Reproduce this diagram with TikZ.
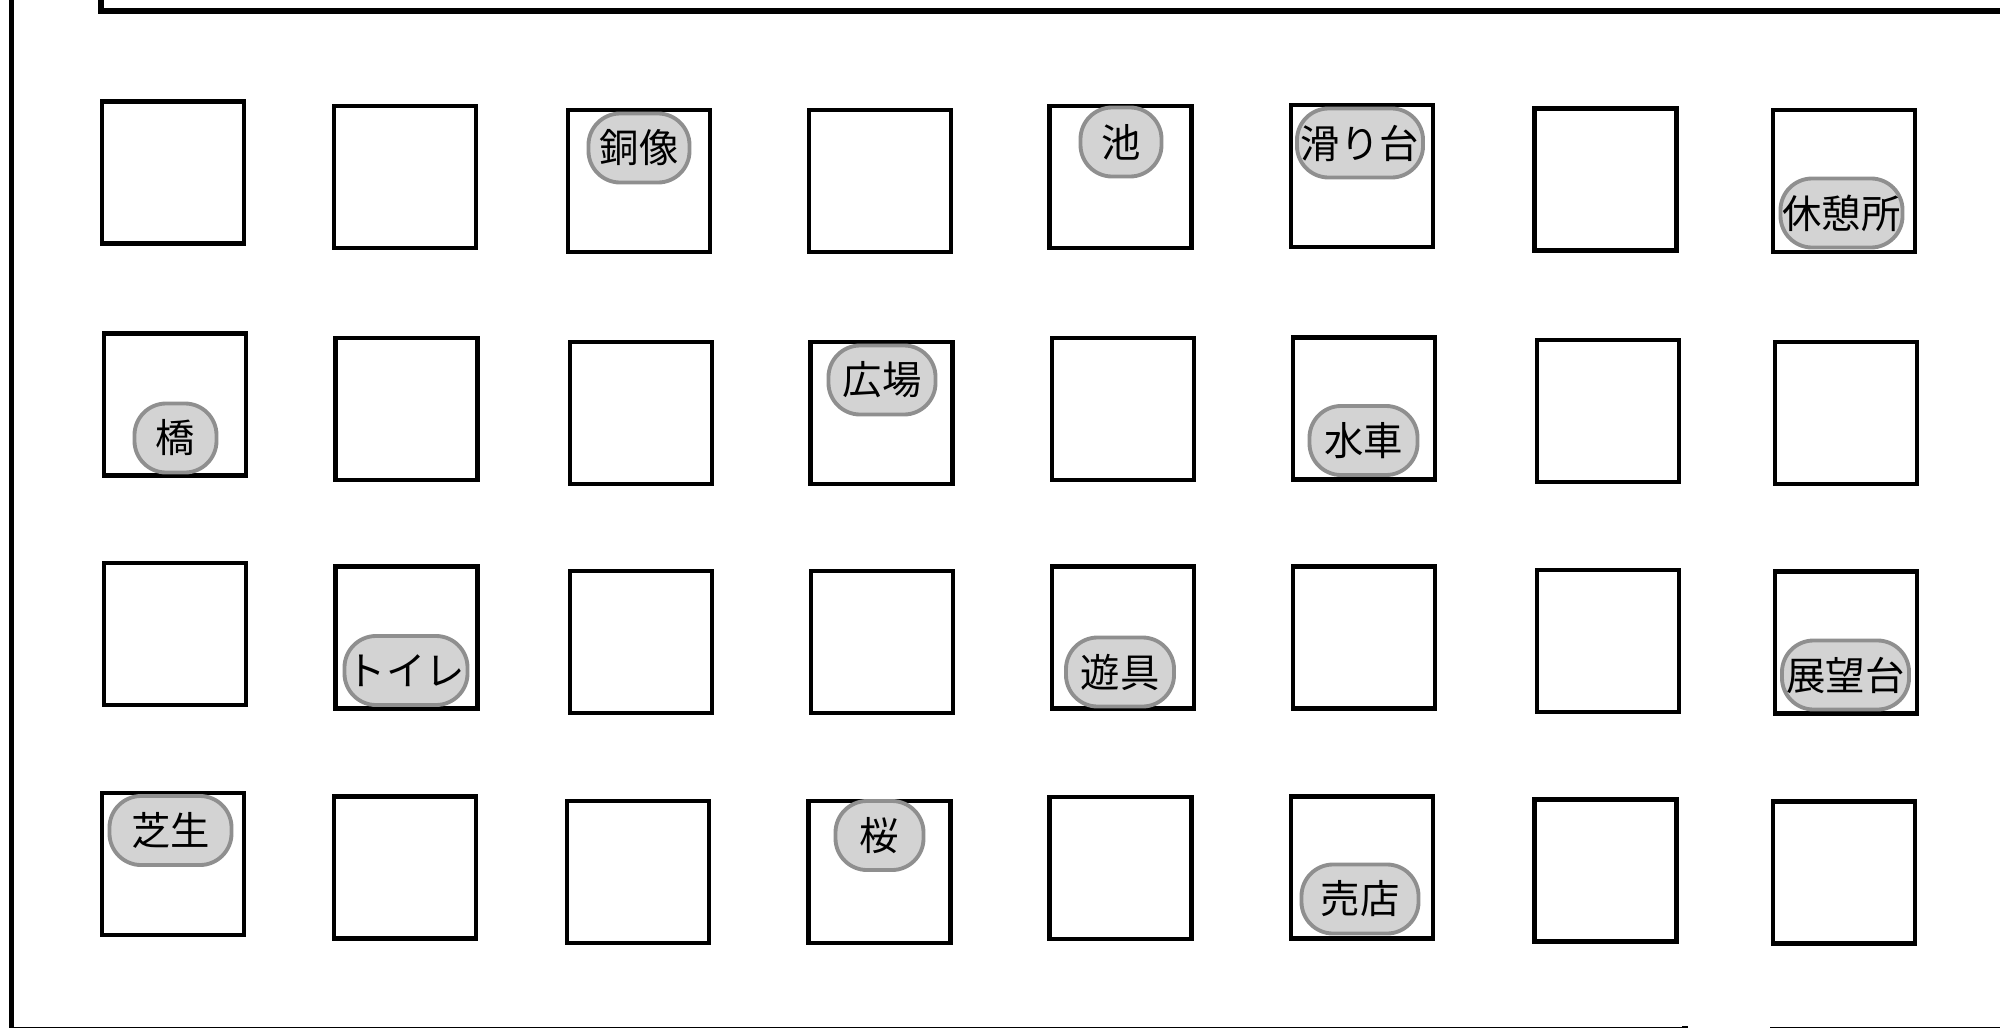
\documentclass[tikz,border=0pt]{standalone}
\usepackage{fontspec}
\newfontfamily\jpfont{Noto Sans CJK JP}
\usepackage{tikz}
\usetikzlibrary{positioning}
\definecolor{pillfill}{HTML}{D3D3D3}
\definecolor{pillborder}{HTML}{8F8F8F}

\begin{document}
\begin{tikzpicture}[x=0.01cm,y=-0.01cm,
    plot/.style={rectangle,draw,line width=1.25pt,minimum size=1.42cm,inner sep=0pt},
    pill/.style={rectangle,rounded corners=9pt,draw=pillborder,fill=pillfill,line width=1.1pt,
      minimum height=0.69cm,inner sep=0pt,font=\jpfont\fontsize{11.2}{13}\selectfont},
    wall/.style={line width=1.7pt}]
  \useasboundingbox (0,0) rectangle (2000,1027);
  \clip (0,0) rectangle (2000,1027);
  % park fence
  \draw[wall] (2010,11) -- (101,11) -- (101,-10);
  \draw[wall] (11.5,-10) -- (11.5,1029.5) -- (1685,1029.5) -- (1685,1025.5);
  \draw[wall] (1770,1029.5) -- (2010,1029.5);
  % plots
  \foreach \n/\x/\y in {11/173/172.5,12/405/177,13/639/181,14/880/181,
      15/1120.5/177,16/1362/176,17/1605.5/179.5,18/1844/181,
      21/175/404.5,22/406.5/409,23/641/413,24/881.5/413,
      25/1123/409,26/1364/408.5,27/1608/411,28/1846/413,
      31/175/634,32/406.5/637.5,33/641/642,34/882/642,
      35/1123/637.5,36/1364/637.5,37/1608/641,38/1846/642.5,
      41/173/864,42/405/867.5,43/638/872,44/879.5/872,
      45/1120.5/868,46/1362/867.5,47/1605.5/870.5,48/1844/872.5}
    \node[plot](b\n) at (\x,\y){};
  % spots
  \node[pill,minimum width=1.01cm](doozoo) at (639,148){銅像};
  \node[pill,minimum width=0.81cm](ike) at (1121,142){池};
  \node[pill,minimum width=1.26cm](suberidai) at (1360,143){滑り台};
  \node[pill,minimum width=1.22cm](kyuukeijo) at (1841.5,213){休憩所};
  \node[pill,minimum width=0.82cm](hashi) at (175.5,438){橋};
  \node[pill,minimum width=1.07cm](hiroba) at (882,380){広場};
  \node[pill,minimum width=1.08cm](suisha) at (1363.5,440.5){水車};
  \node[pill,minimum width=1.23cm](toire) at (406,670.5){トイレ};
  \node[pill,minimum width=1.08cm](yuugu) at (1120,672){遊具};
  \node[pill,minimum width=1.27cm](tenboudai) at (1845.5,675){展望台};
  \node[pill,minimum width=1.22cm](shibafu) at (170.5,830.5){芝生};
  \node[pill,minimum width=0.88cm](sakura) at (879.5,835.5){桜};
  \node[pill,minimum width=1.17cm](baiten) at (1360,899){売店};
\end{tikzpicture}
\end{document}
